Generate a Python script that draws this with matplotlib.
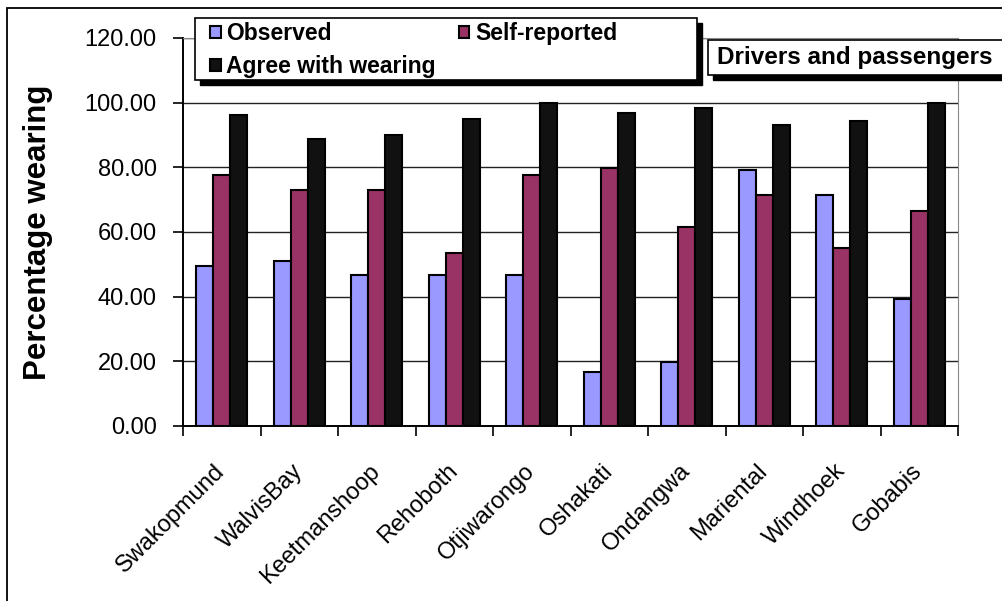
import numpy as np
import matplotlib
matplotlib.use('Agg')
import matplotlib.pyplot as plt
from matplotlib.patches import Rectangle

plt.rcParams['font.family'] = ['Liberation Sans', 'DejaVu Sans']

towns = ['Swakopmund', 'WalvisBay', 'Keetmanshoop', 'Rehoboth', 'Otjiwarongo',
         'Oshakati', 'Ondangwa', 'Mariental', 'Windhoek', 'Gobabis']
observed = [49.5, 51.0, 46.6, 46.6, 46.6, 16.8, 19.9, 79.3, 71.5, 39.4]
self_reported = [77.7, 73.0, 73.0, 53.5, 77.6, 79.8, 61.6, 71.5, 55.1, 66.5]
agree = [96.2, 88.9, 90.0, 95.0, 100.0, 96.7, 98.2, 93.0, 94.3, 100.0]
yticks = [0, 20, 40, 60, 80, 100, 120]

W, H = 1003, 601
fig = plt.figure(figsize=(W / 100, H / 100), dpi=100)

def fx(px):
    return px / W

def fy(py):
    return 1 - py / H

# outer chart border (right and bottom run off the picture)
fig.patches.append(Rectangle((fx(7), fy(640)), fx(1100), 632 / H, transform=fig.transFigure,
                             fill=False, edgecolor='black', lw=1.3))

ax = fig.add_axes([fx(183), fy(426), fx(958 - 183), (426 - 38) / H])

x = np.arange(len(towns))
w = 0.22
b1 = ax.bar(x - w, observed, w, color='#9999ff', edgecolor='black', lw=1.5, zorder=3, label='Observed')
b2 = ax.bar(x, self_reported, w, color='#993366', edgecolor='black', lw=1.5, zorder=3, label='Self-reported')
b3 = ax.bar(x + w, agree, w, color='#111111', edgecolor='black', lw=1.5, zorder=3, label='Agree with wearing')

ax.set_xlim(-0.5, len(towns) - 0.5)
ax.set_ylim(0, 120)
ax.set_yticks(yticks)
ax.set_yticklabels([f'{v:.2f}' for v in yticks], fontsize=17)
ax.yaxis.grid(True, color='#222222', lw=1.0, zorder=0)
ax.tick_params(axis='y', length=7, width=1.2, direction='out', pad=12)

ax.set_xticks(np.arange(len(towns) + 1) - 0.5)
ax.set_xticklabels([])
ax.tick_params(axis='x', which='major', length=7, width=1.2, direction='out')
ax.set_xticks(x, towns, minor=True)
ax.tick_params(axis='x', which='minor', length=0, pad=30, labelsize=17)
plt.setp(ax.get_xticklabels(minor=True), rotation=45, ha='right', va='center',
         rotation_mode='anchor')

for s in ['left', 'bottom']:
    ax.spines[s].set_linewidth(1.4)
for s in ['top', 'right']:
    ax.spines[s].set_color('#888888')

ax.set_ylabel('Percentage wearing', fontsize=22.5, fontweight='bold')
ax.yaxis.set_label_coords(fx(53 - 183) / fx(958 - 183), 0.5)

# legend box with shadow
fig.patches.append(Rectangle((fx(200), fy(85)), fx(502), 62 / H, transform=fig.transFigure,
                             facecolor='black', edgecolor='black', zorder=5))
fig.patches.append(Rectangle((fx(195), fy(80)), fx(502), 62 / H, transform=fig.transFigure,
                             facecolor='white', edgecolor='black', lw=1.2, zorder=6))
leg = fig.legend([b1, b3, b2], ['Observed', 'Agree with wearing', 'Self-reported'],
                 ncol=2, frameon=False, loc='upper left', bbox_to_anchor=(fx(199), fy(11)),
                 borderpad=0, handlelength=0.45, handleheight=0.45, handletextpad=0.25,
                 columnspacing=1.0, labelspacing=0.43,
                 prop={'size': 16.5, 'weight': 'bold'})
leg.set_zorder(7)

# "Drivers and passengers" box with shadow
fig.patches.append(Rectangle((fx(713), fy(80)), fx(400), 35 / H, transform=fig.transFigure,
                             facecolor='black', edgecolor='black', zorder=5))
fig.patches.append(Rectangle((fx(708), fy(75)), fx(400), 35 / H, transform=fig.transFigure,
                             facecolor='white', edgecolor='black', lw=1.2, zorder=6))
fig.text(fx(717), fy(57.5), 'Drivers and passengers', fontsize=17.5, fontweight='bold',
         va='center', ha='left', zorder=7)

fig.savefig('out.png', dpi=100)
